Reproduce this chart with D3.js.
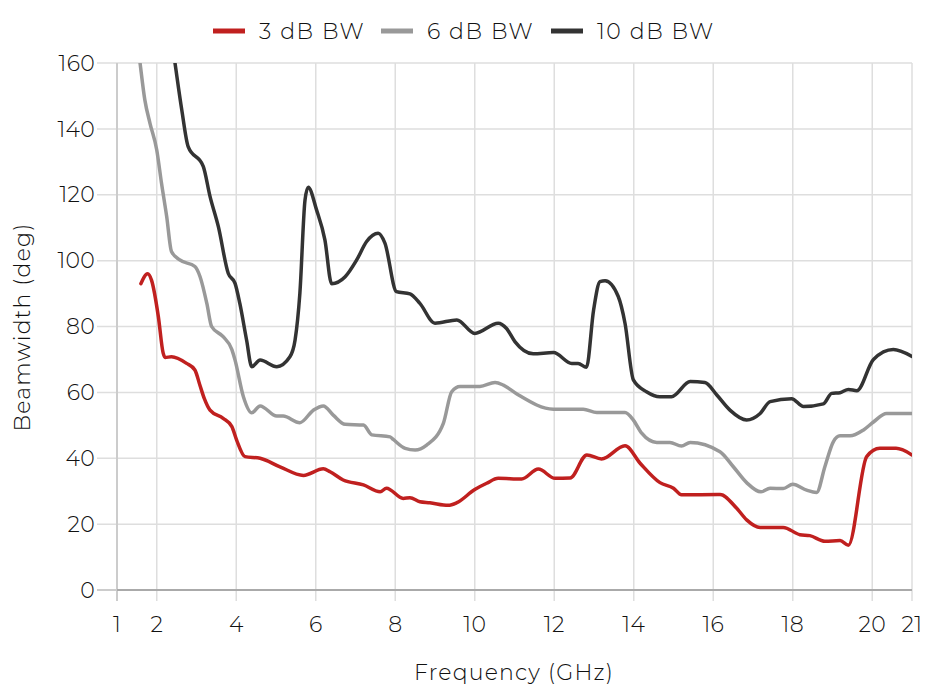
<!DOCTYPE html>
<html><head><meta charset="utf-8">
<script src="https://cdn.jsdelivr.net/npm/d3@7"></script>
<style>
body{margin:0;background:#fff;}
text{font-family:"Montserrat","Open Sans","Noto Sans",sans-serif;font-weight:300;fill:#111;}
</style></head>
<body><svg id="c" width="930" height="696"></svg>
<script>
const xTicks=[1,2,4,6,8,10,12,14,16,18,20,21];
const yTicks=[0,20,40,60,80,100,120,140,160];
const seriesNames=["3 dB BW","6 dB BW","10 dB BW"];
const seriesColors=["#c0201f","#999999","#333333"];
const f3=[1.6,1.77,1.87,2.04,2.16,2.21,2.37,2.75,2.96,3.09,3.2,3.34,3.67,3.89,4.01,4.22,4.6,5.1,5.69,6.19,6.36,6.69,7.2,7.62,7.78,8.2,8.37,8.62,8.87,9.33,9.55,10,10.3,10.59,11.18,11.6,12.02,12.4,12.82,13.19,13.78,14.16,14.66,15,15.2,16.17,16.59,16.84,17.18,17.76,18.18,18.43,18.81,19.19,19.4,19.86,20.19,20.6,21];
const v3=[93,96,94,83,72,70.6,70.8,68.8,66.8,62,58,54.6,52.1,49.6,45.5,40.5,40,37.4,34.8,36.8,35.9,33.4,31.9,29.8,30.9,27.8,28,26.8,26.5,25.7,26.5,30.5,32.4,33.9,33.7,36.7,33.9,34,41,39.8,43.8,38.5,32.6,30.9,28.9,29,24.8,21.3,19,19,16.8,16.5,14.8,15,13.6,40.5,43,43,41];
const f6=[1.5,1.58,1.7,1.83,2.0,2.12,2.25,2.37,2.58,2.96,3.09,3.26,3.38,3.67,3.89,3.97,4.18,4.39,4.6,5.02,5.18,5.6,5.94,6.19,6.44,6.74,7.2,7.41,7.87,7.95,8.25,8.5,8.79,9.21,9.42,9.63,10.13,10.51,10.72,11.06,11.98,12.73,13.07,13.78,13.99,14.2,14.58,14.91,15.2,15.42,16.17,16.5,16.84,17.2,17.43,17.76,18.0,18.35,18.6,18.81,19.02,19.19,19.44,19.78,20.03,20.36,21];
const v6=[168,160,148.8,141.7,133.6,123.5,113.4,102.8,100.2,98.2,95.1,87,80,76.9,73,69.8,58.7,53.8,55.9,52.8,52.8,50.8,54.6,55.9,53.1,50.3,50.1,47.1,46.5,45.7,43,42.5,44,50.6,60.2,61.8,61.8,63,62.2,59.5,54.9,54.9,53.9,53.9,51.6,47.6,44.8,44.8,43.7,44.8,42,37.5,32.6,29.8,30.9,30.8,32.1,30.3,29.6,37.5,45,46.8,46.8,48.6,51,53.6,53.6];
const f10=[2.4,2.46,2.63,2.79,3.17,3.34,3.55,3.8,3.97,4.09,4.26,4.39,4.6,5.02,5.35,5.48,5.6,5.73,5.81,6.02,6.23,6.4,6.74,7.03,7.28,7.57,7.74,8.03,8.37,8.62,9.0,9.55,10,10.59,10.8,11.01,11.47,11.98,12.44,12.6,12.81,12.99,13.15,13.28,13.61,13.78,13.99,14.32,14.66,14.95,15.42,15.79,16.09,16.42,16.84,17.18,17.43,17.97,18.27,18.77,18.98,19.19,19.4,19.61,20.03,20.53,21];
const v10=[165,159.9,145.7,134.6,128.6,119.5,110.3,96.1,93.1,87,75.9,67.8,69.8,67.8,70.8,75.9,90,118.4,122.3,115.4,106.3,93,95.1,100.2,105.8,108.3,105.3,90.6,89.9,87,81,82,77.9,81,79.4,75.4,71.7,72.1,68.8,68.8,67.6,85,93.6,93.9,89.1,81,63.8,60.2,58.7,58.7,63.3,63,59.2,54.6,51.6,53.6,57.2,58.1,55.7,56.5,59.7,59.9,60.9,60.5,70,73,70.9];

const svg=d3.select("#c");
const L=117,R=912,T=63,B=590;
const x=d3.scaleLinear().domain([1,21]).range([L,R]);
const y=d3.scaleLinear().domain([0,160]).range([B,T]);

const gy=svg.append("g");
yTicks.forEach(t=>{
  gy.append("line").attr("x1",97).attr("x2",R).attr("y1",y(t)).attr("y2",y(t))
    .attr("stroke",t===0?"#bbb":"#dedede").attr("stroke-width",1.5);
  gy.append("text").attr("x",95).attr("y",y(t)).attr("dy","0.35em").attr("text-anchor","end")
    .attr("font-size",22).attr("letter-spacing",0.3).text(t);
});
const gx=svg.append("g");
xTicks.forEach(t=>{
  gx.append("line").attr("x1",x(t)).attr("x2",x(t)).attr("y1",T).attr("y2",B+11)
    .attr("stroke",t===1?"#cccccc":"#dedede").attr("stroke-width",t===1?2:1.5);
  gx.append("text").attr("x",x(t)).attr("y",624).attr("dy","0.35em").attr("text-anchor","middle")
    .attr("font-size",22).attr("letter-spacing",0.3).text(t);
});
svg.append("line").attr("x1",L).attr("x2",R).attr("y1",B).attr("y2",B).attr("stroke","#aaaaaa").attr("stroke-width",2);

svg.append("defs").append("clipPath").attr("id","clip").append("rect")
  .attr("x",L).attr("y",T).attr("width",R-L).attr("height",B-T);

const line=d3.line().x(d=>x(d[0])).y(d=>y(d[1])).curve(d3.curveMonotoneX);
const data=[d3.zip(f3,v3),d3.zip(f6,v6),d3.zip(f10,v10)];
const gl=svg.append("g").attr("clip-path","url(#clip)");
[2,1,0].forEach(i=>{
  gl.append("path").attr("d",line(data[i])).attr("fill","none")
    .attr("stroke",seriesColors[i]).attr("stroke-width",3.5).attr("stroke-linejoin","round").attr("stroke-linecap","round");
});

const legX=[213,381,551];
seriesNames.forEach((n,i)=>{
  svg.append("line").attr("x1",legX[i]).attr("x2",legX[i]+32).attr("y1",31).attr("y2",31)
    .attr("stroke",seriesColors[i]).attr("stroke-width",5);
  svg.append("text").attr("x",legX[i]+46).attr("y",31).attr("dy","0.35em").attr("font-size",22).attr("letter-spacing",1.6).text(n);
});

svg.append("text").attr("x",514).attr("y",672).attr("dy","0.35em").attr("text-anchor","middle").attr("font-size",22).attr("letter-spacing",1.2).text("Frequency (GHz)");
svg.append("text").attr("transform","translate(22,327) rotate(-90)").attr("dy","0.35em").attr("text-anchor","middle").attr("font-size",22).attr("letter-spacing",1.2).text("Beamwidth (deg)");
</script></body></html>
